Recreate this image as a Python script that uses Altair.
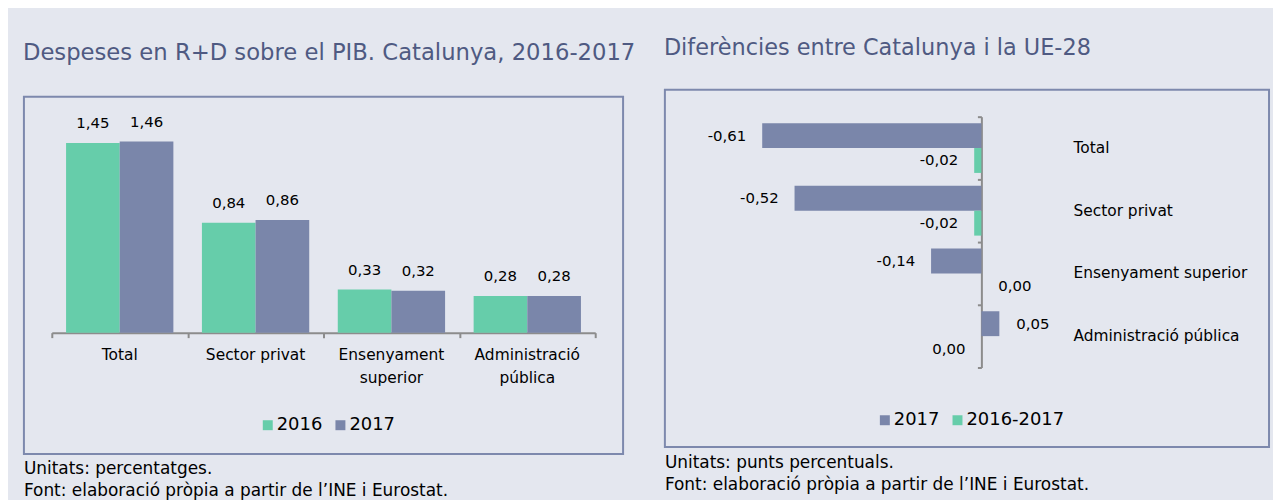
import altair as alt
import pandas as pd

categories = ["Total", "Sector privat", "Ensenyament superior", "Administració pública"]
years_left = ["2016", "2017"]
values_2016 = [1.45, 0.84, 0.33, 0.28]
values_2017 = [1.46, 0.86, 0.32, 0.28]
series_right = ["2017", "2016-2017"]
diff_2017 = [-0.61, -0.52, -0.14, 0.05]
diff_change = [-0.02, -0.02, 0.00, 0.00]
title_left = "Despeses en R+D sobre el PIB. Catalunya, 2016-2017"
title_right = "Diferències entre Catalunya i la UE-28"
foot_left = ["Unitats: percentatges.", "Font: elaboració pròpia a partir de l’INE i Eurostat."]
foot_right = ["Unitats: punts percentuals.", "Font: elaboració pròpia a partir de l’INE i Eurostat."]
tick_positions = [0, 1, 2, 3, 4]

GREEN = "#66cdaa"
SLATE = "#7a86aa"
BG = "#e4e7ef"
FRAME = "#7d89ad"
AXC = "#8c8c8c"
TITLE_C = "#4f5a82"
FONT = "DejaVu Sans"

df_left = pd.DataFrame(
    [{"cat": c, "year": years_left[0], "value": v} for c, v in zip(categories, values_2016)]
    + [{"cat": c, "year": years_left[1], "value": v} for c, v in zip(categories, values_2017)]
)
df_right = pd.DataFrame(
    [{"cat": c, "series": series_right[0], "value": v} for c, v in zip(categories, diff_2017)]
    + [{"cat": c, "series": series_right[1], "value": v} for c, v in zip(categories, diff_change)]
)

LABEL_EXPR = "replace(replace(format(datum.value, '.2f'), '.', ','), '\u2212', '-')"


def legend(x, y):
    return alt.Legend(orient="none", legendX=x, legendY=y, direction="horizontal",
                      title=None, symbolType="square", symbolSize=100, symbolStrokeWidth=0,
                      labelFontSize=18, labelFont=FONT, labelColor="#000000",
                      columnPadding=9, padding=0, labelOffset=0)


# ---------------- left panel ----------------
LW, LH = 602, 359
x_band = alt.X(
    "cat:N", sort=categories,
    scale=alt.Scale(domain=categories, range=[28, 574], paddingInner=0, paddingOuter=0),
    axis=alt.Axis(orient="bottom", offset=-122, domain=False, ticks=False, labelPadding=15,
                  labelAngle=0, labelFontSize=15.5, labelColor="#000000", labelFont=FONT,
                  labelLineHeight=23, title=None,
                  labelExpr="(datum.label == 'Total' || datum.label == 'Sector privat') ? datum.label : split(datum.label, ' ')"),
)
y_left = alt.Y("value:Q", scale=alt.Scale(domain=[0, 1.6], range=[237, 26.6], nice=False, zero=False), axis=None)
xoff_left = alt.XOffset("year:N", sort=years_left,
                        scale=alt.Scale(domain=years_left, paddingOuter=0.266, paddingInner=0))

bars_left = alt.Chart(df_left).mark_bar().encode(
    x=x_band, y=y_left, y2=alt.datum(0), xOffset=xoff_left,
    color=alt.Color("year:N", scale=alt.Scale(domain=years_left, range=[GREEN, SLATE]), legend=legend(236, 328)),
)
text_left = alt.Chart(df_left).transform_calculate(lbl=LABEL_EXPR).mark_text(
    baseline="alphabetic", dy=-15, fontSize=15, font=FONT, color="#000000"
).encode(x=x_band, y=y_left, xOffset=xoff_left, text="lbl:N")

ticks_left = alt.Chart(df_left).transform_calculate(z="0").mark_point(opacity=0).encode(
    x=alt.X("z:Q", scale=alt.Scale(domain=[0, 4], range=[28, 574], nice=False, zero=False),
            axis=alt.Axis(orient="bottom", offset=-122, values=tick_positions, labels=False, tickSize=5,
                          tickColor=AXC, domainColor=AXC, tickWidth=2, domainWidth=2, grid=False, title=None)),
    y=alt.Y("value:Q", axis=None),
)

left_inner = alt.layer(alt.layer(bars_left, text_left), ticks_left).resolve_scale(x="independent").resolve_axis(
    x="independent"
).properties(
    width=LW, height=LH,
    title=alt.TitleParams(foot_left, orient="bottom", anchor="start", fontSize=17, font=FONT, color="#000000",
                          fontWeight="normal", offset=7, lineHeight=22),
)
spacer = alt.Chart(pd.DataFrame({"s": [0]})).mark_point(opacity=0).encode(
    x=alt.X("s:Q", axis=None), y=alt.Y("s:Q", axis=None)
).properties(width=LW, height=6, view=alt.ViewBackground(stroke=None))

left_panel = alt.vconcat(spacer, left_inner, spacing=0, title=alt.TitleParams(
    title_left, anchor="start", fontSize=22.8, font=FONT, color=TITLE_C, fontWeight="normal", offset=25))

# ---------------- right panel ----------------
RW, RH = 607, 359
y_band = alt.Y(
    "cat:N", sort=categories,
    scale=alt.Scale(domain=categories, range=[27, 279], paddingInner=0, paddingOuter=0),
    axis=alt.Axis(orient="right", offset=-197, domain=False, ticks=False, labelPadding=0, labelAlign="left",
                  labelFontSize=15.5, labelFont=FONT, labelColor="#000000", labelLimit=400, title=None),
)
x_right = alt.X("value:Q", scale=alt.Scale(domain=[-0.8, 0.3], range=[29.2, 426.3], nice=False, zero=False),
                axis=None)
yoff_right = alt.YOffset("series:N", sort=series_right,
                         scale=alt.Scale(domain=series_right, paddingOuter=0.26, paddingInner=0))

bars_right = alt.Chart(df_right).mark_bar().encode(
    y=y_band, x=x_right, x2=alt.datum(0), yOffset=yoff_right,
    color=alt.Color("series:N", scale=alt.Scale(domain=series_right, range=[SLATE, GREEN]),
                    legend=legend(212, 323)),
)
LEFT_SIDE = "datum.value < 0 || (datum.value == 0 && datum.cat == 'Administració pública')"
text_right_neg = alt.Chart(df_right).transform_filter(LEFT_SIDE).transform_calculate(lbl=LABEL_EXPR).mark_text(
    align="right", baseline="middle", dx=-16, fontSize=15, font=FONT, color="#000000"
).encode(y=y_band, x=x_right, yOffset=yoff_right, text="lbl:N")
text_right_pos = alt.Chart(df_right).transform_filter("!(" + LEFT_SIDE + ")").transform_calculate(
    lbl=LABEL_EXPR).mark_text(
    align="left", baseline="middle", dx=17, fontSize=15, font=FONT, color="#000000"
).encode(y=y_band, x=x_right, yOffset=yoff_right, text="lbl:N")

ticks_right = alt.Chart(df_right).transform_calculate(z="0").mark_point(opacity=0).encode(
    y=alt.Y("z:Q", scale=alt.Scale(domain=[0, 4], range=[27, 279], nice=False, zero=False),
            axis=alt.Axis(orient="left", offset=-318, values=tick_positions, labels=False, tickSize=4,
                          tickColor=AXC, domainColor=AXC, tickWidth=2, domainWidth=2, grid=False, title=None)),
    x=alt.X("value:Q", axis=None),
)

right_inner = alt.layer(alt.layer(bars_right, text_right_neg, text_right_pos), ticks_right).resolve_scale(
    y="independent").resolve_axis(y="independent").properties(
    width=RW, height=RH,
    title=alt.TitleParams(foot_right, orient="bottom", anchor="start", fontSize=17, font=FONT, color="#000000",
                          fontWeight="normal", offset=8, lineHeight=22),
)
right_panel = alt.vconcat(right_inner, spacing=0, title=alt.TitleParams(
    title_right, anchor="start", fontSize=22.5, font=FONT, color=TITLE_C, fontWeight="normal", offset=29))

chart = alt.hconcat(left_panel, right_panel, spacing=28).resolve_scale(
    color="independent").configure(
    background=BG, padding={"left": 15, "top": 28, "right": 3, "bottom": 10}
).configure_view(stroke=FRAME, strokeWidth=2, fill=None).configure_text(font=FONT)

chart.save("out.html", embed_options={"renderer": "svg", "actions": False})
